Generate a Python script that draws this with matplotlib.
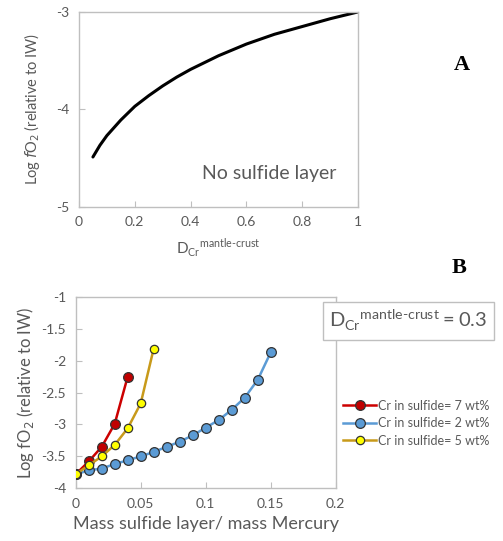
import matplotlib
matplotlib.use("Agg")
import matplotlib.pyplot as plt

# Panel A: log fO2 vs D_Cr (no sulfide layer)
d_cr = [0.05, 0.075, 0.1, 0.15, 0.2, 0.25, 0.3, 0.35, 0.4, 0.45, 0.5, 0.55, 0.6,
        0.7, 0.8, 0.9, 1.0]
fo2_no_sulfide = [-4.49, -4.37, -4.27, -4.11, -3.97, -3.86, -3.76, -3.67, -3.59,
                  -3.52, -3.45, -3.39, -3.33, -3.23, -3.15, -3.07, -3.00]

# Panel B: log fO2 vs mass sulfide layer / mass Mercury
mass_7 = [0.0, 0.01, 0.02, 0.03, 0.04]
fo2_7 = [-3.78, -3.58, -3.35, -2.99, -2.25]

mass_2 = [0.0, 0.01, 0.02, 0.03, 0.04, 0.05, 0.06, 0.07, 0.08, 0.09,
          0.10, 0.11, 0.12, 0.13, 0.14, 0.15]
fo2_2 = [-3.78, -3.72, -3.69, -3.62, -3.56, -3.50, -3.43, -3.35, -3.27, -3.17,
         -3.05, -2.93, -2.77, -2.58, -2.30, -1.87]

mass_5 = [0.0, 0.01, 0.02, 0.03, 0.04, 0.05, 0.06]
fo2_5 = [-3.78, -3.64, -3.50, -3.32, -3.06, -2.67, -1.81]

labels = ["Cr in sulfide= 7 wt%", "Cr in sulfide= 2 wt%", "Cr in sulfide= 5 wt%"]

GRAY = "#595959"
SPINE = "#bfbfbf"
HYPH = "\u2010"
plt.rcParams['font.family'] = ['Lato', 'DejaVu Sans']


def style_axes(ax):
    for s in ax.spines.values():
        s.set_color(SPINE)
        s.set_linewidth(1.0)
    ax.tick_params(direction='in', length=4, color=SPINE, labelcolor=GRAY,
                   labelsize=10, pad=7)


fig = plt.figure(figsize=(5.03, 5.41), dpi=100)

# ---- Panel A ----
axA = fig.add_axes([0.157, 0.618, 0.555, 0.360])
axA.plot(d_cr, fo2_no_sulfide, color="black", linewidth=2.2,
         solid_joinstyle="round", solid_capstyle="round")
axA.set_xlim(0, 1)
axA.set_ylim(-5, -3)
axA.set_xticks([0, 0.2, 0.4, 0.6, 0.8, 1])
axA.set_xticklabels(["0", "0.2", "0.4", "0.6", "0.8", "1"])
axA.set_yticks([-5, -4, -3])
axA.set_yticklabels(["-5", "-4", "-3"])
style_axes(axA)
axA.set_ylabel(r"Log $\mathit{f}$O$_2$ (relative to IW)", color=GRAY,
               fontsize=10.5, labelpad=10)
axA.set_xlabel(r"D$_{\mathregular{Cr}}$$^{\mathregular{mantle" + HYPH + r"crust}}$",
               color=GRAY, fontsize=11, labelpad=6)
axA.text(0.68, -4.72, "No sulfide layer", color=GRAY, fontsize=14, ha="center")
fig.text(0.918, 0.88, "A", fontsize=16, fontweight="bold",
         family="Liberation Serif", ha="center", va="center")

# ---- Panel B ----
axB = fig.add_axes([0.1505, 0.0974, 0.517, 0.354])
axB.plot(mass_7, fo2_7, color="#cc0000", linewidth=1.8, marker="o",
         markersize=7, markerfacecolor="#c00000", markeredgecolor="#333333",
         markeredgewidth=0.9, label=labels[0], zorder=3)
axB.plot(mass_2, fo2_2, color="#5b9bd5", linewidth=1.8, marker="o",
         markersize=7, markerfacecolor="#5b9bd5", markeredgecolor="#333333",
         markeredgewidth=0.9, label=labels[1], zorder=2)
axB.plot(mass_5, fo2_5, color="#c89a1a", linewidth=1.8, marker="o",
         markersize=6, markerfacecolor="#ffff00", markeredgecolor="#333333",
         markeredgewidth=0.9, label=labels[2], zorder=4)
axB.set_xlim(0, 0.2)
axB.set_ylim(-4, -1)
axB.set_xticks([0, 0.05, 0.1, 0.15, 0.2])
axB.set_xticklabels(["0", "0.05", "0.1", "0.15", "0.2"])
axB.set_yticks([-4, -3.5, -3, -2.5, -2, -1.5, -1])
axB.set_yticklabels(["-4", "-3.5", "-3", "-2.5", "-2", "-1.5", "-1"])
style_axes(axB)
axB.set_ylabel(r"Log fO$_2$ (relative to IW)", color=GRAY, fontsize=12)
axB.set_xlabel("Mass sulfide layer/ mass Mercury", color=GRAY, fontsize=13, labelpad=4)

leg = axB.legend(loc="center left", bbox_to_anchor=(1.01, 0.34), frameon=False,
                 fontsize=9, handlelength=2.6, handletextpad=0.2,
                 labelspacing=0.45, borderaxespad=0.0)
for t in leg.get_texts():
    t.set_color(GRAY)

fig.text(0.812, 0.407,
         r"D$_{\mathregular{Cr}}$$^{\mathregular{mantle" + HYPH + r"crust}}$$\mathregular{=0.3}$",
         color=GRAY, fontsize=14.5, ha="center", va="center",
         bbox=dict(boxstyle="square,pad=0.32", facecolor="white", edgecolor=SPINE))
fig.text(0.913, 0.505, "B", fontsize=16, fontweight="bold",
         family="Liberation Serif", ha="center", va="center")

fig.savefig("out.png", dpi=100)
